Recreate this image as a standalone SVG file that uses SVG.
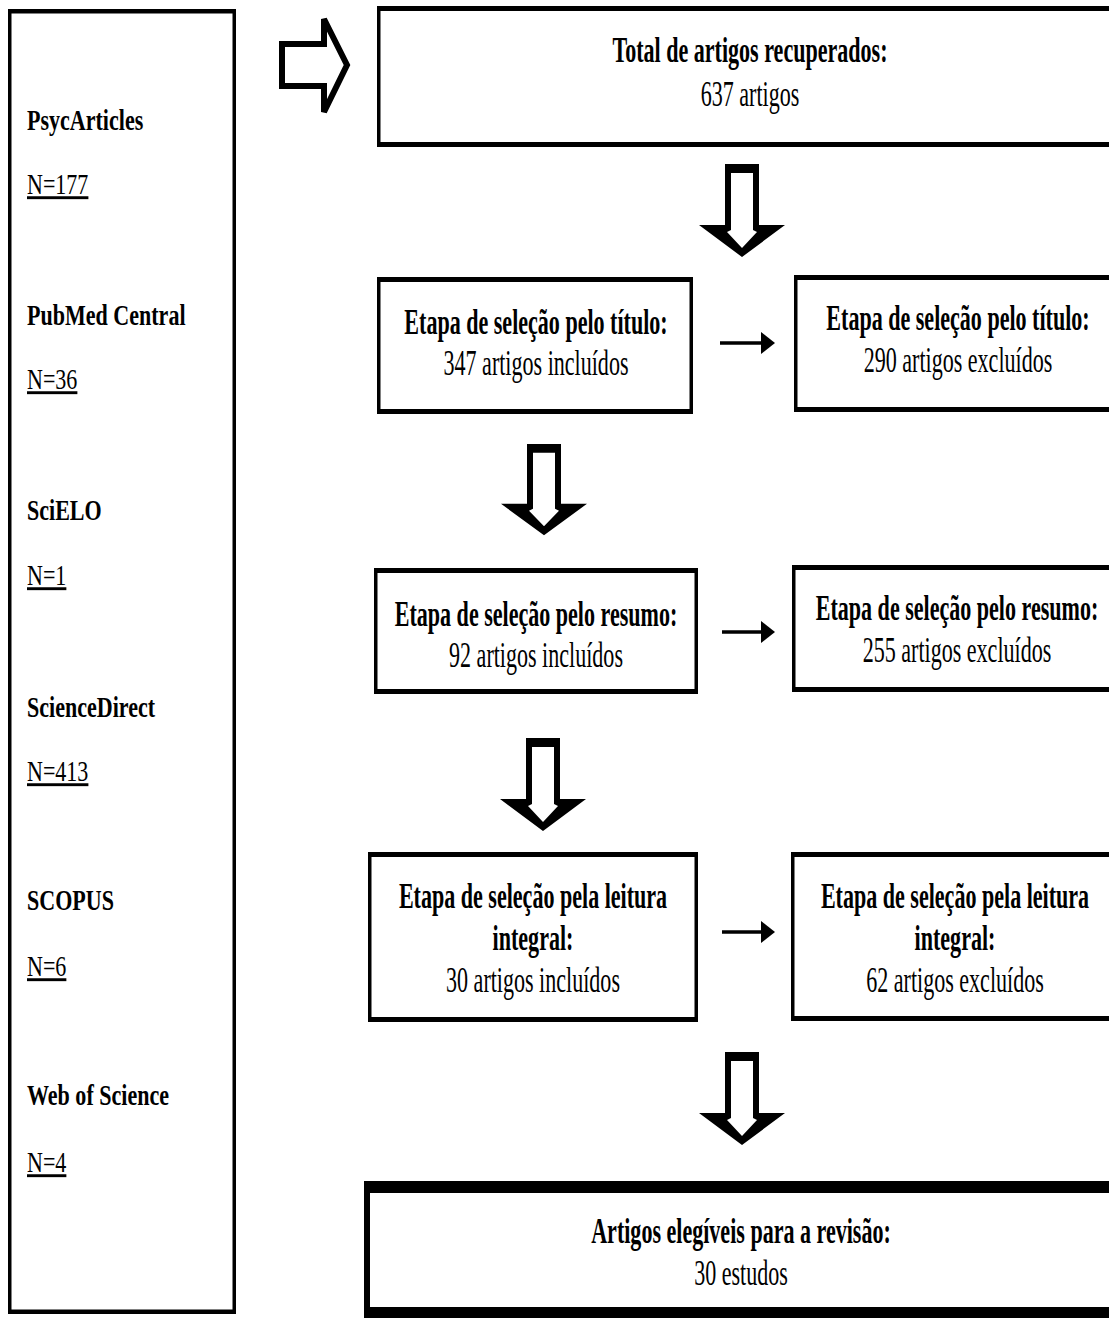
<svg xmlns="http://www.w3.org/2000/svg" width="1109" height="1318" viewBox="0 0 1109 1318">
<style>
text{font-family:"Liberation Serif","Times New Roman",serif;fill:#000}
.h{font-size:35px;font-weight:bold;text-anchor:middle}
.r{font-size:35px;text-anchor:middle}
.lb{font-size:29px;font-weight:bold}
.ln{font-size:29px;text-decoration:underline}
.frame{fill:#000}
.inner{fill:#fff}
.small{stroke:#000;stroke-width:3.5;fill:none}
</style>
<defs>
<g id="downArrow">
<polygon points="-17,0 17,0 17,61 43,61 0,93 -43,61 -17,61" fill="#000"/>
<polygon points="-11,9 11,9 11,66 15,68 0,84 -15,68 -11,66" fill="#fff"/>
</g>
<marker id="ah" markerUnits="userSpaceOnUse" markerWidth="14" markerHeight="22" refX="1" refY="11" orient="auto">
<path d="M0,0 L14,11 L0,22 Z" fill="#000"/>
</marker>
</defs>
<rect width="1109" height="1318" fill="#fff"/>

<g id="sources">
<rect x="8" y="9" width="228" height="1305" class="frame"/>
<rect x="11.5" y="13.5" width="221" height="1296" class="inner"/>
<text class="lb" transform="translate(27,130) scale(0.76,1)">PsycArticles</text>
<text class="ln" transform="translate(27,194) scale(0.76,1)">N=177</text>
<text class="lb" transform="translate(27,325) scale(0.76,1)">PubMed Central</text>
<text class="ln" transform="translate(27,389) scale(0.76,1)">N=36</text>
<text class="lb" transform="translate(27,520) scale(0.76,1)">SciELO</text>
<text class="ln" transform="translate(27,585) scale(0.76,1)">N=1</text>
<text class="lb" transform="translate(27,717) scale(0.76,1)">ScienceDirect</text>
<text class="ln" transform="translate(27,781) scale(0.76,1)">N=413</text>
<text class="lb" transform="translate(27,910) scale(0.76,1)">SCOPUS</text>
<text class="ln" transform="translate(27,976) scale(0.76,1)">N=6</text>
<text class="lb" transform="translate(27,1105) scale(0.76,1)">Web of Science</text>
<text class="ln" transform="translate(27,1172) scale(0.76,1)">N=4</text>
</g>

<g id="total">
<rect x="377" y="6" width="740" height="141" class="frame"/>
<rect x="380.5" y="11" width="740" height="131" class="inner"/>
<text class="h" transform="translate(750,62) scale(0.63,1)">Total de artigos recuperados:</text>
<text class="r" transform="translate(750,106) scale(0.63,1)">637 artigos</text>
</g>

<g id="titulo-incl">
<rect x="377" y="277" width="316" height="137" class="frame"/>
<rect x="380.5" y="282" width="309" height="127" class="inner"/>
<text class="h" transform="translate(536,334) scale(0.63,1)">Etapa de seleção pelo título:</text>
<text class="r" transform="translate(536,375) scale(0.63,1)">347 artigos incluídos</text>
</g>

<g id="titulo-excl">
<rect x="794" y="275" width="330" height="137" class="frame"/>
<rect x="797.5" y="280" width="330" height="127" class="inner"/>
<text class="h" transform="translate(958,330) scale(0.63,1)">Etapa de seleção pelo título:</text>
<text class="r" transform="translate(958,372) scale(0.63,1)">290 artigos excluídos</text>
</g>

<g id="resumo-incl">
<rect x="374" y="568" width="324" height="126" class="frame"/>
<rect x="377.5" y="573" width="317" height="116" class="inner"/>
<text class="h" transform="translate(536,626) scale(0.63,1)">Etapa de seleção pelo resumo:</text>
<text class="r" transform="translate(536,667) scale(0.63,1)">92 artigos incluídos</text>
</g>

<g id="resumo-excl">
<rect x="792" y="565" width="330" height="127" class="frame"/>
<rect x="795.5" y="570" width="330" height="117" class="inner"/>
<text class="h" transform="translate(957,620) scale(0.63,1)">Etapa de seleção pelo resumo:</text>
<text class="r" transform="translate(957,662) scale(0.63,1)">255 artigos excluídos</text>
</g>

<g id="leitura-incl">
<rect x="368" y="852" width="330" height="170" class="frame"/>
<rect x="371.5" y="857" width="323" height="160" class="inner"/>
<text class="h" transform="translate(533,908) scale(0.63,1)">Etapa de seleção pela leitura</text>
<text class="h" transform="translate(533,950) scale(0.63,1)">integral:</text>
<text class="r" transform="translate(533,992) scale(0.63,1)">30 artigos incluídos</text>
</g>

<g id="leitura-excl">
<rect x="791" y="852" width="330" height="169" class="frame"/>
<rect x="794.5" y="857" width="330" height="159" class="inner"/>
<text class="h" transform="translate(955,908) scale(0.63,1)">Etapa de seleção pela leitura</text>
<text class="h" transform="translate(955,950) scale(0.63,1)">integral:</text>
<text class="r" transform="translate(955,992) scale(0.63,1)">62 artigos excluídos</text>
</g>

<g id="elegiveis">
<rect x="364" y="1181" width="760" height="137" class="frame"/>
<rect x="370" y="1193" width="760" height="114" class="inner"/>
<text class="h" transform="translate(741,1243) scale(0.63,1)">Artigos elegíveis para a revisão:</text>
<text class="r" transform="translate(741,1285) scale(0.63,1)">30 estudos</text>
</g>

<g id="connectors">
<polygon points="282,44 324,44 324,19 347,65 324,112 324,86 282,86" fill="#fff" stroke="#000" stroke-width="6" stroke-linejoin="miter"/>
<use href="#downArrow" transform="translate(742,164)"/>
<use href="#downArrow" transform="translate(544,444) scale(1,0.98)"/>
<use href="#downArrow" transform="translate(543,738)"/>
<use href="#downArrow" transform="translate(742,1052)"/>
<line x1="720" y1="343" x2="762" y2="343" class="small" marker-end="url(#ah)"/>
<line x1="722" y1="632" x2="762" y2="632" class="small" marker-end="url(#ah)"/>
<line x1="722" y1="932" x2="762" y2="932" class="small" marker-end="url(#ah)"/>
</g>
</svg>
